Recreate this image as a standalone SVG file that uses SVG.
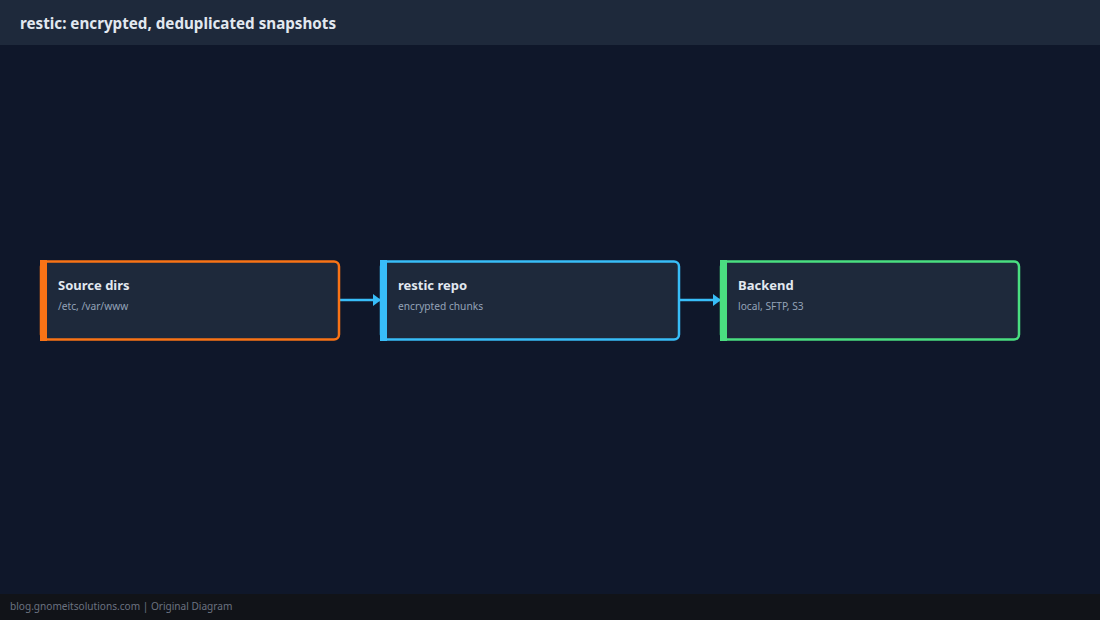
<svg xmlns="http://www.w3.org/2000/svg" width="1100" height="620" viewBox="0 0 1100 620">
<defs>
<style>
.t{font-family:"Noto Sans","Open Sans",sans-serif}
.title{font-size:15.2px;font-weight:700;fill:#e2e8f0}
.nt{font-size:13px;font-weight:700;fill:#e2e8f0}
.ns{font-size:10.2px;fill:#94a3b8}
.box{fill:#1e293b;stroke-width:2.5}
.edge{stroke:#38bdf8;stroke-width:2.5;fill:none}
.foot{font-size:10.1px;fill:#6b7280}
</style>
<marker id="ah" viewBox="0 0 8 12" refX="8" refY="6" markerWidth="8" markerHeight="12" orient="auto" markerUnits="userSpaceOnUse">
<path d="M0,0 L8,6 L0,12 z" fill="#38bdf8"/>
</marker>
</defs>
<rect width="1100" height="620" fill="#0f172a"/>
<rect width="1100" height="45" fill="#1e293b"/>
<text class="t title" x="20" y="29">restic: encrypted, deduplicated snapshots</text>
<rect y="594" width="1100" height="26" fill="#111318"/>
<text class="t foot" x="10" y="610">blog.gnomeitsolutions.com | Original Diagram</text>
<g id="connectors">
<line class="edge" x1="340" y1="300" x2="381" y2="300" marker-end="url(#ah)"/>
<line class="edge" x1="680" y1="300" x2="721" y2="300" marker-end="url(#ah)"/>
</g>
<g id="source">
<rect class="box" x="41" y="261.5" width="298" height="78" rx="5" stroke="#f97316"/>
<rect x="40" y="260" width="7" height="81" fill="#f97316"/>
<text class="t nt" x="58" y="290">Source dirs</text>
<text class="t ns" x="58" y="310">/etc, /var/www</text>
</g>
<g id="repo">
<rect class="box" x="381" y="261.5" width="298" height="78" rx="5" stroke="#38bdf8"/>
<rect x="380" y="260" width="7" height="81" fill="#38bdf8"/>
<text class="t nt" x="398" y="290">restic repo</text>
<text class="t ns" x="398" y="310">encrypted chunks</text>
</g>
<g id="backend">
<rect class="box" x="721" y="261.5" width="298" height="78" rx="5" stroke="#4ade80"/>
<rect x="720" y="260" width="7" height="81" fill="#4ade80"/>
<text class="t nt" x="738" y="290">Backend</text>
<text class="t ns" x="738" y="310">local, SFTP, S3</text>
</g>
</svg>
